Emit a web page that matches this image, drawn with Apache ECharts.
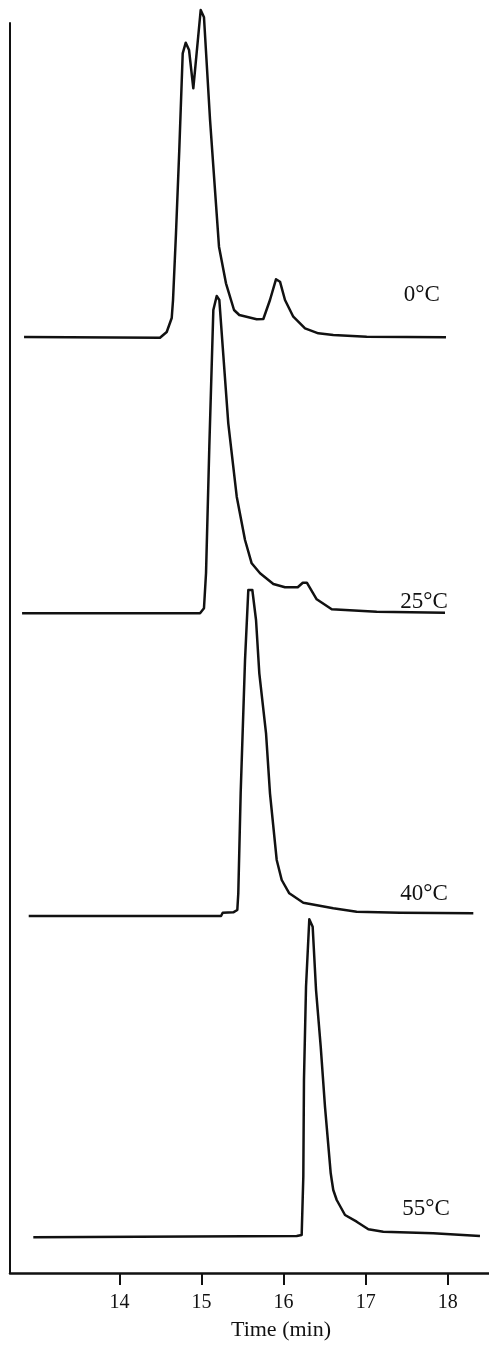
<!DOCTYPE html>
<html>
<head>
<meta charset="utf-8">
<script src="https://cdn.jsdelivr.net/npm/echarts@6/dist/echarts.min.js"></script>
<style>
html,body{margin:0;padding:0;background:#fff;}
#chart{width:489px;height:1346px;}
</style>
</head>
<body>
<div id="chart"></div>
<script>
// ---- data (time in min, detector response in arbitrary units above baseline) ----
const tickValues = [14, 15, 16, 17, 18];
const tickLabels = ['14', '15', '16', '17', '18'];
const traceLabels = ['0°C', '25°C', '40°C', '55°C'];
const axisTitle = 'Time (min)';

const trace0C = [
  [12.838, 0.3], [14.494, -0.4], [14.507, 0], [14.576, 5.3], [14.637, 19.3], [14.653, 37.3],
  [14.689, 104], [14.729, 187], [14.771, 284], [14.808, 294.6], [14.848, 287.3], [14.900, 249],
  [14.990, 327.3], [15.030, 320], [15.104, 217.3], [15.144, 170.6], [15.213, 90.6], [15.298, 54],
  [15.396, 27.3], [15.460, 22.3], [15.672, 18], [15.753, 18.3], [15.834, 37.3], [15.907, 58],
  [15.956, 55.6], [16.017, 37.3], [16.118, 20.6], [16.261, 9], [16.423, 4], [16.605, 2.3],
  [17.012, 0.6], [17.978, 0]
];
const trace25C = [
  [12.814, 0], [14.982, 0], [15.030, 5], [15.055, 40.3], [15.095, 166.6], [15.144, 303.3],
  [15.185, 317.3], [15.217, 313.3], [15.258, 266.6], [15.326, 190], [15.429, 116.6], [15.530, 73.3],
  [15.611, 50], [15.713, 40], [15.875, 29.3], [16.017, 26], [16.172, 26], [16.234, 30.6],
  [16.283, 30.6], [16.403, 14], [16.586, 4], [17.134, 1.5], [17.966, 0.6]
];
const trace40C = [
  [12.895, 0], [15.238, 0], [15.258, 3.3], [15.387, 3.7], [15.436, 6], [15.448, 22.7],
  [15.477, 123], [15.530, 256], [15.570, 326], [15.619, 326], [15.664, 296], [15.704, 242.7],
  [15.786, 182.7], [15.834, 122.7], [15.916, 56], [15.977, 36], [16.069, 22.7], [16.240, 13.3],
  [16.605, 7.7], [16.890, 4.3], [17.418, 3.3], [18.311, 2.7]
];
const trace55C = [
  [12.951, -0.3], [16.160, 1], [16.220, 2], [16.240, 60.3], [16.248, 157], [16.273, 250.3],
  [16.313, 317.7], [16.354, 310.3], [16.395, 247], [16.452, 190.3], [16.504, 130.3], [16.574, 63.7],
  [16.586, 57], [16.605, 47], [16.647, 37], [16.748, 22], [16.890, 15.3], [17.032, 7.7],
  [17.214, 5.3], [17.823, 3.7], [18.392, 1]
];
const traces = [trace0C, trace25C, trace40C, trace55C];

// ---- layout ----
const X_MIN = 12.667, X_MAX = 18.502;
const FONT = '"Liberation Serif", "Times New Roman", serif';
const INK = '#111';
const traceGridTops = [7.3, 283.3, 586, 907];   // baseline (value 0) sits 330px below top
const traceGridHeight = 350;                     // value range -20 .. 330
const labelPos = [[421.7, 295], [424, 602], [424, 894], [426, 1209]];

const grids = [{ left: 10, right: 0, top: 23, bottom: 72 }];
const xAxes = [{
  type: 'value', gridIndex: 0, min: X_MIN, max: X_MAX,
  axisLine: { show: true, onZero: false, lineStyle: { color: INK, width: 2.5 } },
  axisTick: { show: true, inside: false, length: 12, customValues: tickValues, lineStyle: { color: INK, width: 2 } },
  axisLabel: {
    show: true, customValues: tickValues, margin: 20,
    formatter: v => tickLabels[tickValues.indexOf(v)] ?? String(v),
    fontFamily: FONT, fontSize: 20, color: INK
  },
  splitLine: { show: false },
  name: axisTitle, nameLocation: 'middle', nameGap: 46,
  nameTextStyle: { fontFamily: FONT, fontSize: 22, color: INK, padding: [0, 0, 0, 63] }
}];
const yAxes = [{
  type: 'value', gridIndex: 0, min: 0, max: 1,
  axisLine: { show: true, onZero: false, lineStyle: { color: INK, width: 2 } },
  axisTick: { show: false }, axisLabel: { show: false }, splitLine: { show: false }
}];
const series = [];
traces.forEach((tr, i) => {
  grids.push({ left: 10, right: 0, top: traceGridTops[i], height: traceGridHeight });
  xAxes.push({ type: 'value', gridIndex: i + 1, min: X_MIN, max: X_MAX, show: false, splitLine: { show: false } });
  yAxes.push({ type: 'value', gridIndex: i + 1, min: -20, max: 330, show: false, splitLine: { show: false } });
  series.push({
    type: 'line', name: traceLabels[i], xAxisIndex: i + 1, yAxisIndex: i + 1,
    data: tr, symbol: 'none', showSymbol: false, smooth: false, clip: false,
    lineStyle: { color: INK, width: 2.5, join: 'round' }
  });
});

const graphics = traceLabels.map((txt, i) => ({
  type: 'text', x: labelPos[i][0], y: labelPos[i][1],
  style: { text: txt, font: '23px ' + FONT, fill: INK, align: 'center', verticalAlign: 'middle' }
}));

const chart = echarts.init(document.getElementById('chart'), null, { renderer: 'canvas' });
chart.setOption({
  animation: false,
  backgroundColor: '#fff',
  grid: grids, xAxis: xAxes, yAxis: yAxes, series: series,
  graphic: graphics
});
</script>
</body>
</html>
